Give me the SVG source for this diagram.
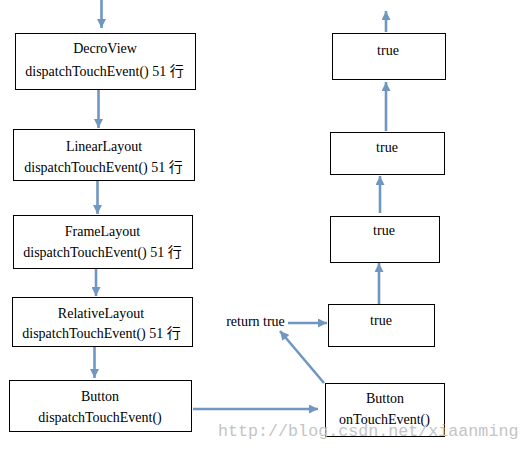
<svg xmlns="http://www.w3.org/2000/svg" width="531" height="449" viewBox="0 0 531 449">
<defs>
<marker id="ah" viewBox="0 0 10 10" refX="10" refY="5" markerWidth="10" markerHeight="9" markerUnits="userSpaceOnUse" orient="auto">
<path d="M0,0 L10,5 L0,10 z" fill="#7097c2"/>
</marker>
<style>
.box{fill:#fff;stroke:#000;stroke-width:1}
.t{font-size:14px;fill:#000;text-anchor:middle}
.c line{stroke:#7097c2;stroke-width:2.6;marker-end:url(#ah)}
.wm{font-size:16.7px;fill:#c4c4c4}
</style>
</defs>
<rect width="531" height="449" fill="#fff"/>
<g font-family="'Liberation Serif','Noto Sans CJK SC',serif">
<g id="decroview"><rect class="box" x="15.5" y="33.5" width="180" height="56"/><text class="t" x="105" y="53">DecroView</text><text class="t" x="104.5" y="76">dispatchTouchEvent() 51 行</text></g>
<g id="linearlayout"><rect class="box" x="13.5" y="129.5" width="181" height="51"/><text class="t" x="104" y="151">LinearLayout</text><text class="t" x="103.5" y="172">dispatchTouchEvent() 51 行</text></g>
<g id="framelayout"><rect class="box" x="13.5" y="215.5" width="179" height="53"/><text class="t" x="102.5" y="236">FrameLayout</text><text class="t" x="102.5" y="257">dispatchTouchEvent() 51 行</text></g>
<g id="relativelayout"><rect class="box" x="12.5" y="297.5" width="180" height="49"/><text class="t" x="101" y="318">RelativeLayout</text><text class="t" x="101.5" y="338">dispatchTouchEvent() 51 行</text></g>
<g id="button-dispatch"><rect class="box" x="9.5" y="380.5" width="182" height="51"/><text class="t" x="100" y="401">Button</text><text class="t" x="100" y="422">dispatchTouchEvent()</text></g>
<g id="button-ontouch"><rect class="box" x="325.5" y="383.5" width="119" height="53"/><text class="t" x="385" y="403">Button</text><text class="t" x="384.5" y="424">onTouchEvent()</text></g>
<g id="true1"><rect class="box" x="328.5" y="304.5" width="106" height="42"/><text class="t" x="381" y="325">true</text></g>
<g id="true2"><rect class="box" x="330.5" y="216.5" width="109" height="46"/><text class="t" x="384" y="235">true</text></g>
<g id="true3"><rect class="box" x="330.5" y="132.5" width="114" height="42"/><text class="t" x="387" y="152">true</text></g>
<g id="true4"><rect class="box" x="332.5" y="33.5" width="113" height="46"/><text class="t" x="388" y="55">true</text></g>
<g id="return-true"><text class="t" x="255.5" y="326">return true</text></g>
</g>
<g class="c" id="connectors">
<line x1="101.5" y1="0" x2="101.5" y2="28"/>
<line x1="98.5" y1="90" x2="98.5" y2="128"/>
<line x1="97.5" y1="181" x2="97.5" y2="214"/>
<line x1="96" y1="269" x2="96" y2="296"/>
<line x1="94.5" y1="347" x2="94.5" y2="378"/>
<line x1="193" y1="409" x2="318" y2="409"/>
<line x1="324" y1="383" x2="280" y2="331"/>
<line x1="288" y1="323" x2="327" y2="323"/>
<line x1="379" y1="304" x2="379" y2="263"/>
<line x1="380" y1="213" x2="380" y2="176"/>
<line x1="386" y1="131" x2="386" y2="82"/>
<line x1="386" y1="32" x2="386" y2="11"/>
</g>
<text class="wm" font-family="'Liberation Mono',monospace" x="218" y="436">http://blog.csdn.net/xiaanming</text>
</svg>
